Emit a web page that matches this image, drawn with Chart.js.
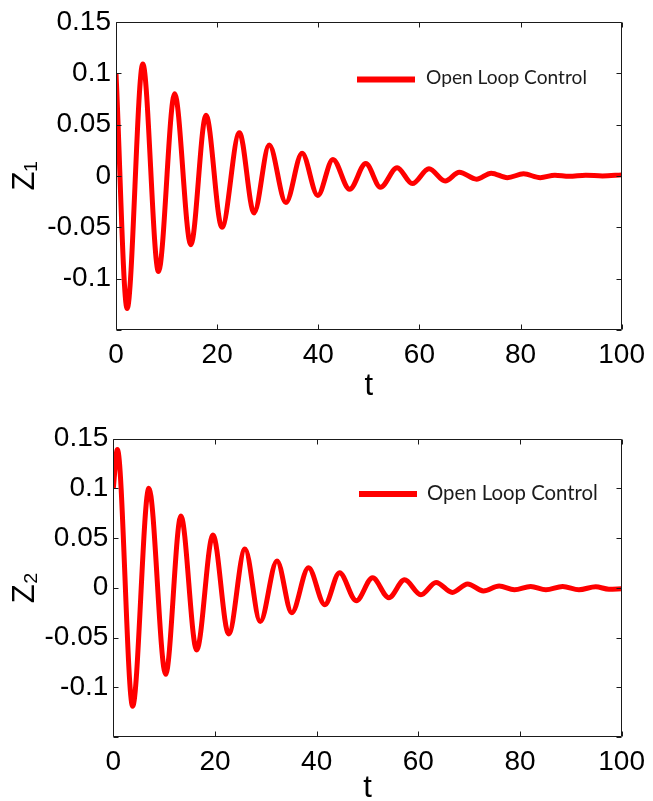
<!DOCTYPE html>
<html><head><meta charset="utf-8">
<script src="https://cdn.jsdelivr.net/npm/chart.js@4/dist/chart.umd.min.js"></script>
<style>
html,body{margin:0;padding:0;background:#fff;width:653px;height:801px;overflow:hidden}
canvas{position:absolute;left:0}
#c1{top:0}
#c2{top:400px}
</style></head><body>
<canvas id="c1" width="653" height="400"></canvas>
<canvas id="c2" width="653" height="401"></canvas>
<script>
// ---- data ----
const seriesLabel = 'Open Loop Control';

// Z1 (upper plot): extrema of the damped oscillation
const t1 = [0, 2.2, 5.3, 8.4, 11.6, 14.8, 17.8, 20.95, 24.4, 27.3, 30.3, 33.6, 36.8, 39.9, 42.9, 46.2, 49.4, 52.3, 55.6, 58.6, 61.9, 65.1, 67.9, 71.3, 74.2, 77.4, 80.6, 83.9, 86.8, 89.6, 92.9, 96.2, 100];
const z1 = [0.1, -0.129, 0.109, -0.093, 0.080, -0.067, 0.059, -0.050, 0.042, -0.036, 0.030, -0.026, 0.022, -0.019, 0.016, -0.013, 0.012, -0.011, 0.008, -0.0075, 0.007, -0.005, 0.0036, -0.0032, 0.0027, -0.0017, 0.002, -0.0017, 0.0007, -0.0003, 0.0007, 0.0, 0.001];

// Z2 (lower plot)
const t2 = [0, 0.8, 3.8, 7.0, 10.3, 13.3, 16.4, 19.6, 22.7, 25.9, 28.9, 32.2, 35.1, 38.4, 41.6, 44.5, 47.8, 51.0, 54.2, 57.3, 60.5, 63.5, 66.7, 69.7, 72.8, 75.9, 78.9, 82.1, 85.1, 88.4, 91.6, 94.9, 97.5, 100];
const z2 = [0.1, 0.139, -0.119, 0.100, -0.087, 0.072, -0.0625, 0.053, -0.0465, 0.039, -0.034, 0.027, -0.025, 0.020, -0.017, 0.015, -0.013, 0.010, -0.010, 0.008, -0.007, 0.0053, -0.0047, 0.0038, -0.0032, 0.0018, -0.002, 0.0013, -0.002, 0.0013, -0.002, 0.001, -0.0015, -0.001];

const xTicks = [0, 20, 40, 60, 80, 100];
const xTickLabels = ['0', '20', '40', '60', '80', '100'];
const yTicks = [-0.15, -0.1, -0.05, 0, 0.05, 0.1, 0.15];
const yTickLabels = ['', '-0.1', '-0.05', '0', '0.05', '0.1', '0.15'];
const xTitle = 't';
const yTitle1 = 'Z\u2081';
const yTitle2 = 'Z\u2082';

// ---- styling ----
const AXIS_FONT = '"Liberation Sans Narrow", "Arial Narrow", "Liberation Sans", Arial, sans-serif';
const LEG_FONT = 'Lato, "Open Sans", sans-serif';

const matBox = {
  id: 'matBox',
  afterDatasetsDraw(chart) {
    const {ctx, chartArea: a, scales} = chart;
    const L = Math.round(a.left) + 0.5, R = Math.round(a.right) - 0.5;
    const T = Math.round(a.top) + 0.5, B = Math.round(a.bottom) - 0.5;
    ctx.save();
    ctx.strokeStyle = '#1a1a1a';
    ctx.lineWidth = 1;
    ctx.beginPath();
    ctx.rect(L, T, R - L, B - T);
    const tl = 5;
    scales.x.ticks.forEach(tk => {
      const px = Math.round(scales.x.getPixelForValue(tk.value)) + 0.5;
      ctx.moveTo(px, B); ctx.lineTo(px, B - tl);
      ctx.moveTo(px, T); ctx.lineTo(px, T + tl);
    });
    scales.y.ticks.forEach(tk => {
      const py = Math.round(scales.y.getPixelForValue(tk.value)) + 0.5;
      ctx.moveTo(L, py); ctx.lineTo(L + tl, py);
      ctx.moveTo(R, py); ctx.lineTo(R - tl, py);
    });
    ctx.stroke();
    ctx.restore();
  }
};

const inlineLegend = {
  id: 'inlineLegend',
  afterDraw(chart, args, o) {
    const {ctx} = chart;
    const ds = chart.data.datasets[0];
    ctx.save();
    ctx.strokeStyle = ds.borderColor;
    ctx.lineWidth = 6;
    ctx.lineCap = 'butt';
    ctx.beginPath();
    ctx.moveTo(o.x1, o.y); ctx.lineTo(o.x2, o.y);
    ctx.stroke();
    // fit font size to the target text width
    let size = 20;
    ctx.font = size + 'px ' + LEG_FONT;
    const w = ctx.measureText(ds.label).width;
    size = size * o.textWidth / w;
    ctx.font = size + 'px ' + LEG_FONT;
    ctx.fillStyle = '#1c1c1c';
    ctx.textBaseline = 'alphabetic';
    ctx.textAlign = 'left';
    ctx.fillText(ds.label, o.tx, o.baseline);
    ctx.restore();
  }
};

function makeChart(id, ts, zs, yTitle, g) {
  const data = ts.map((t, i) => ({x: t, y: zs[i]}));
  return new Chart(document.getElementById(id), {
    type: 'line',
    data: {datasets: [{
      label: seriesLabel, data,
      borderColor: '#ff0000', borderWidth: 5,
      pointRadius: 0, cubicInterpolationMode: 'monotone', fill: false
    }]},
    options: {
      responsive: false, animation: false,
      layout: {padding: {top: g.top, right: g.right, left: 0, bottom: 0}},
      plugins: {legend: {display: false}, tooltip: {enabled: false},
        inlineLegend: g.legend},
      scales: {
        x: {
          type: 'linear', min: 0, max: 100,
          afterBuildTicks: s => { s.ticks = xTicks.map(v => ({value: v})); },
          afterFit: s => { s.height = g.xh; },
          ticks: {autoSkip: false, maxRotation: 0, padding: 8, color: '#000',
            font: {family: AXIS_FONT, size: 28},
            callback: (v, i) => xTickLabels[i]},
          grid: {display: false, drawTicks: false},
          border: {display: false},
          title: {display: true, text: xTitle, color: '#000',
            font: {family: AXIS_FONT, size: 31, lineHeight: 0.8},
            padding: {top: 0, bottom: g.tpad}}
        },
        y: {
          type: 'linear', min: -0.15, max: 0.15,
          afterBuildTicks: s => { s.ticks = yTicks.map(v => ({value: v})); },
          afterFit: s => { s.width = g.yw; },
          ticks: {autoSkip: false, padding: 5, color: '#000',
            font: {family: AXIS_FONT, size: 28},
            callback: (v, i) => yTickLabels[i]},
          grid: {display: false, drawTicks: false},
          border: {display: false},
          title: {display: true, text: yTitle, color: '#000',
            font: {family: AXIS_FONT, size: 31, lineHeight: 1},
            padding: {top: 10, bottom: 0}}
        }
      }
    },
    plugins: [matBox, inlineLegend]
  });
}

makeChart('c1', t1, z1, yTitle1, {
  top: 18, right: 21.5, yw: 116, xh: 70, tpad: 1,
  legend: {x1: 357, x2: 415, y: 79.5, tx: 426, baseline: 84, textWidth: 161}
});
makeChart('c2', t2, z2, yTitle2, {
  top: 38.5, right: 30.3, yw: 113.3, xh: 64, tpad: 0,
  legend: {x1: 359, x2: 417, y: 94, tx: 427, baseline: 100, textWidth: 171}
});
</script>
</body></html>
